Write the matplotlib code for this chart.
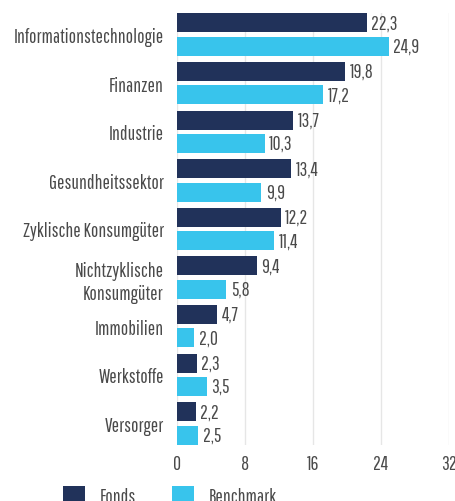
import matplotlib
matplotlib.use("Agg")
import matplotlib.pyplot as plt
from matplotlib.patches import Patch
import numpy as np

plt.rcParams['font.family'] = ['Pathway Gothic One', 'DejaVu Sans']

# Daten
categories = ["Informationstechnologie", "Finanzen", "Industrie", "Gesundheitssektor",
              "Zyklische Konsumgüter", "Nichtzyklische\nKonsumgüter", "Immobilien",
              "Werkstoffe", "Versorger"]
fonds = [22.3, 19.8, 13.7, 13.4, 12.2, 9.4, 4.7, 2.3, 2.2]
benchmark = [24.9, 17.2, 10.3, 9.9, 11.4, 5.8, 2.0, 3.5, 2.5]
xticks = [0, 8, 16, 24, 32]
series_names = ["Fonds", "Benchmark"]

navy = "#21325a"
lightblue = "#38c4ec"
textcol = "#4a4a4a"
fs = 14

fig = plt.figure(figsize=(4.55, 5.02), dpi=100)
ax = fig.add_axes([177/455, 1 - 446/502, (449 - 177)/455, (446 - 14)/502])

y = np.arange(len(categories))
h = 0.39
off = 0.24
b1 = ax.barh(y - off, fonds, height=h, color=navy)
b2 = ax.barh(y + off, benchmark, height=h, color=lightblue)

# Werte neben den Balken
for bars, vals in [(b1, fonds), (b2, benchmark)]:
    for rect, v in zip(bars, vals):
        ax.text(rect.get_width() + 0.55, rect.get_y() + rect.get_height() / 2,
                f"{v:.1f}".replace(".", ","), va="center", ha="left",
                fontsize=fs, color=textcol)

ax.set_ylim(len(categories) - 1 + 0.44, -0.44)
ax.set_xlim(0, 32)
ax.set_xticks(xticks)
ax.set_xticklabels([str(t) for t in xticks], fontsize=fs, color=textcol)
ax.set_yticks(y)
ax.set_yticklabels(categories, fontsize=fs, color=textcol, linespacing=1.3)
ax.tick_params(axis="both", length=0)
ax.tick_params(axis="y", pad=9.5)
ax.tick_params(axis="x", pad=6.5)
ax.grid(axis="x", color="#e6e6e6", linewidth=1)
ax.set_axisbelow(True)
for s in ax.spines.values():
    s.set_visible(False)

handles = [Patch(facecolor=navy, linewidth=0), Patch(facecolor=lightblue, linewidth=0)]
fig.legend(handles, series_names, loc="center left", bbox_to_anchor=(63/455, 1 - 497/502),
           ncol=2, frameon=False, borderpad=0, borderaxespad=0,
           handlelength=1.13, handleheight=0.95,
           columnspacing=1.85, handletextpad=0.75, prop={"size": fs})
for t in fig.legends[0].get_texts():
    t.set_color(textcol)

fig.savefig("out.png", dpi=100)
